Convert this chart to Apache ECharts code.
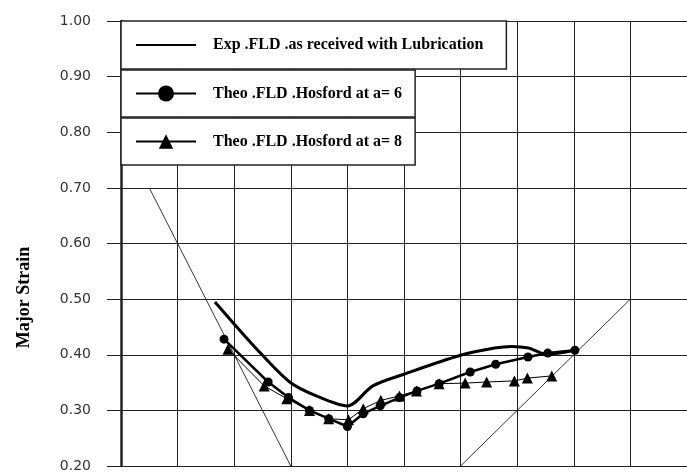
<!DOCTYPE html>
<html>
<head>
<meta charset="utf-8">
<script src="https://cdn.jsdelivr.net/npm/echarts@6/dist/echarts.min.js"></script>
<style>
  html, body { margin: 0; padding: 0; background: #fff; }
  #chart { width: 687px; height: 473px; }
</style>
</head>
<body>
<div id="chart"></div>
<script>
// values (minor strain on x, major strain on y)
const expMinor = [-0.234, -0.16, -0.102, -0.055, 0.0, 0.045, 0.1, 0.2, 0.26, 0.29, 0.32, 0.352, 0.402];
const expMajor = [0.495, 0.41, 0.351, 0.326, 0.308, 0.344, 0.365, 0.399, 0.412, 0.415, 0.412, 0.401, 0.408];

const a6Minor = [-0.218, -0.14, -0.104, -0.067, -0.033, 0.0, 0.028, 0.058, 0.092, 0.123, 0.162, 0.217, 0.262, 0.319, 0.354, 0.402];
const a6Major = [0.428, 0.351, 0.323, 0.3, 0.285, 0.271, 0.294, 0.308, 0.323, 0.335, 0.348, 0.369, 0.383, 0.396, 0.403, 0.408];

const a8Minor = [-0.211, -0.147, -0.107, -0.067, -0.033, 0.002, 0.028, 0.059, 0.092, 0.122, 0.162, 0.208, 0.246, 0.295, 0.318, 0.361];
const a8Major = [0.41, 0.344, 0.321, 0.3, 0.285, 0.283, 0.303, 0.318, 0.326, 0.335, 0.348, 0.349, 0.351, 0.353, 0.358, 0.362];

// uniaxial and equibiaxial guide lines
const uniMinor = [-0.35, 0];
const uniMajor = [0.7, 0];
const biMinor = [0, 0.5];
const biMajor = [0, 0.5];

const names = [
  "Exp .FLD .as received with Lubrication",
  "Theo .FLD .Hosford at a= 6",
  "Theo .FLD .Hosford at a= 8",
];

const pairs = (xs, ys) => xs.map((x, i) => [x, ys[i]]);

const ink = "#222";
const legendFont = { fontFamily: "Liberation Serif", fontWeight: "bold", fontSize: 16, color: "#000", padding: [0, 0, 0, 12] };

function legendBox(name, top, itemHeight, padV, padR, extra) {
  return Object.assign({
    data: [name],
    left: 121,
    top: top,
    orient: "vertical",
    itemWidth: 60,
    itemHeight: itemHeight,
    padding: [padV, padR, padV, 14],
    backgroundColor: "#fff",
    borderColor: ink,
    borderWidth: 1.5,
    borderRadius: 0,
    selectedMode: false,
    textStyle: legendFont,
  }, extra || {});
}

const chart = echarts.init(document.getElementById("chart"));
chart.setOption({
  animation: false,
  backgroundColor: "#fff",
  grid: { left: 121, top: 21, right: -11, bottom: 2 },
  legend: [
    legendBox(names[0], 21, 14, 16, 23, { itemStyle: { color: "rgba(0,0,0,0)", borderWidth: 0 } }),
    legendBox(names[1], 70, 20, 15.5, 13),
    legendBox(names[2], 118, 18, 15.5, 13),
  ],
  xAxis: {
    type: "value",
    min: -0.4,
    max: 0.6,
    interval: 0.1,
    axisLine: { show: false },
    axisTick: { show: false },
    axisLabel: { show: false },
    splitLine: { show: true, lineStyle: { color: ink, width: 1 } },
  },
  yAxis: {
    type: "value",
    min: 0.2,
    max: 1.0,
    interval: 0.1,
    name: "Major Strain",
    nameLocation: "middle",
    nameGap: 88,
    nameRotate: 90,
    nameTextStyle: {
      fontFamily: "Liberation Serif",
      fontWeight: "bold",
      fontSize: 18,
      color: "#000",
      padding: [0, 108, 0, 0],
    },
    axisLine: { show: true, onZero: false, lineStyle: { color: ink, width: 2.5 } },
    axisTick: { show: true, length: 14, lineStyle: { color: ink, width: 1 } },
    axisLabel: {
      margin: 30,
      fontFamily: "DejaVu Sans",
      fontSize: 14,
      color: "#333",
      formatter: (v) => v.toFixed(2),
    },
    splitLine: { show: true, lineStyle: { color: ink, width: 1 } },
  },
  series: [
    {
      name: names[0],
      type: "line",
      data: pairs(expMinor, expMajor),
      symbol: "none",
      smooth: 0.3,
      lineStyle: { color: "#000", width: 3 },
      itemStyle: { color: "#000" },
      z: 5,
    },
    {
      name: names[1],
      type: "line",
      data: pairs(a6Minor, a6Major),
      symbol: "circle",
      symbolSize: 9,
      lineStyle: { color: "#000", width: 2.5 },
      itemStyle: { color: "#000" },
      z: 5,
    },
    {
      name: names[2],
      type: "line",
      data: pairs(a8Minor, a8Major),
      symbol: "triangle",
      symbolSize: 11,
      lineStyle: { color: "#000", width: 1 },
      itemStyle: { color: "#000" },
      z: 4,
    },
    {
      type: "line",
      data: pairs(uniMinor, uniMajor),
      symbol: "none",
      lineStyle: { color: "#000", width: 0.8 },
      z: 3,
    },
    {
      type: "line",
      data: pairs(biMinor, biMajor),
      symbol: "none",
      lineStyle: { color: "#000", width: 0.8 },
      z: 3,
    },
  ],
});
</script>
</body>
</html>
